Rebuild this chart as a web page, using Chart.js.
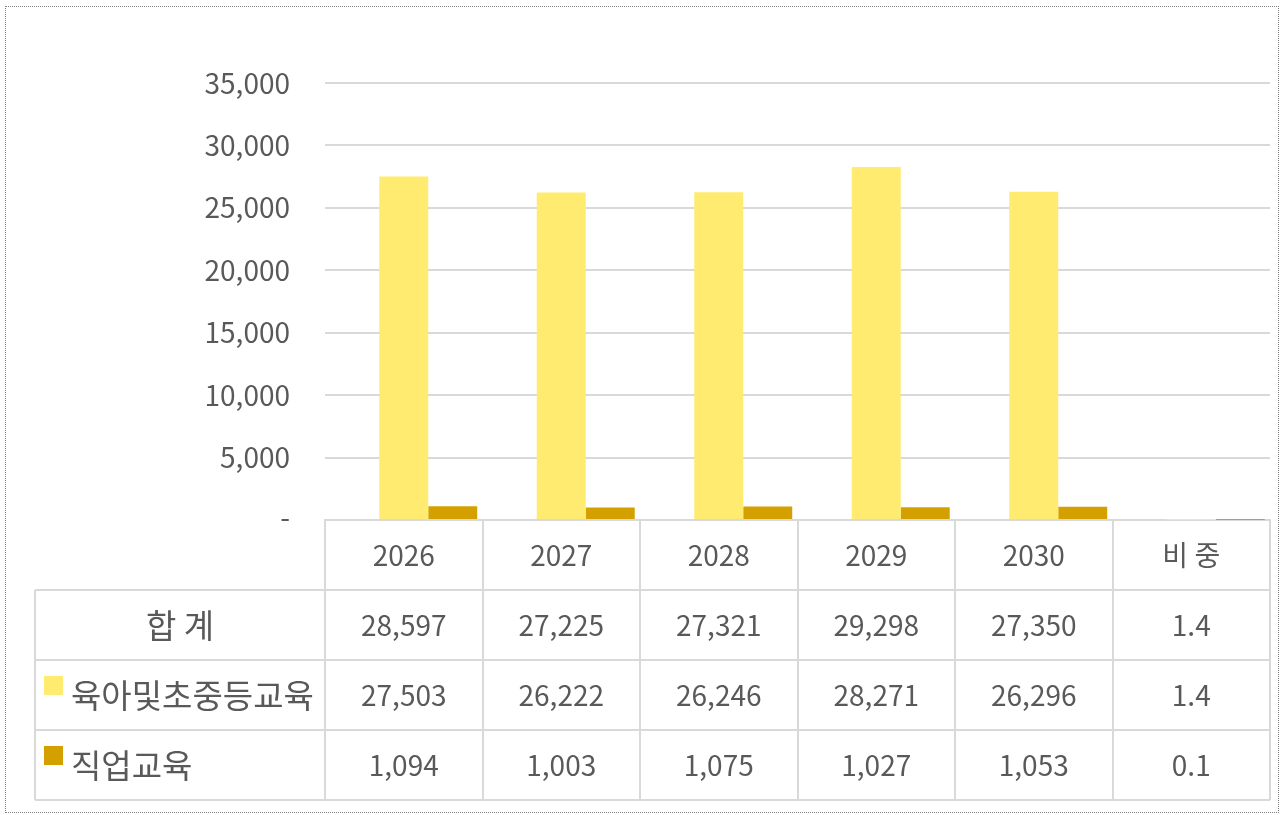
<!DOCTYPE html>
<html lang="ko">
<head>
<meta charset="utf-8">
<title>교육 예산 전망</title>
<script src="https://cdn.jsdelivr.net/npm/chart.js@4/dist/chart.umd.min.js"></script>
<style>
  body { margin: 0; background: #fff; }
  #wrap { position: relative; width: 1284px; height: 815px; }
  #wrap::after {
    content: ""; position: absolute; left: 5px; top: 6px; width: 1272px; height: 805px;
    border: 1px dotted #7f7f7f; pointer-events: none;
  }
</style>
</head>
<body>
<div id="wrap"><canvas id="myChart" width="1284" height="815"></canvas></div>
<script>
const categories = ['2026', '2027', '2028', '2029', '2030', '비 중'];
const totalValues = [28597, 27225, 27321, 29298, 27350, 1.4];
const earlyEduValues = [27503, 26222, 26246, 28271, 26296, 1.4];
const vocEduValues = [1094, 1003, 1075, 1027, 1053, 0.1];
const yTicks = [0, 5000, 10000, 15000, 20000, 25000, 30000, 35000];

const FONT = '"Noto Sans CJK KR", "Noto Sans", sans-serif';
const TEXT = '#595959';
const LINE = '#d9d9d9';

const fmt = v => Number.isInteger(v) ? v.toLocaleString('en-US') : v.toFixed(1);

// Table rows below the plot, same order as Excel's data table
const tableRows = [
  { label: '합 계', values: totalValues, color: null },
  { label: '육아및초중등교육', values: earlyEduValues, color: '#FFEB70' },
  { label: '직업교육', values: vocEduValues, color: '#D4A000' }
];

// Draws the data table under the x axis, using the x scale's columns
const dataTable = {
  id: 'dataTable',
  afterDraw(chart) {
    const { ctx, chartArea } = chart;
    const x = chart.scales.x;
    const colW = (chartArea.right - chartArea.left) / categories.length;
    const headTop = chartArea.bottom + 1;
    const headBottom = x.bottom;
    const rowH = 70;
    const tableLeft = 35;
    const tableBottom = headBottom + rowH * tableRows.length;

    ctx.save();
    ctx.strokeStyle = LINE;
    ctx.lineWidth = 2;

    // vertical lines for the value columns
    for (let i = 0; i <= categories.length; i++) {
      const px = Math.round(chartArea.left + colW * i);
      ctx.beginPath();
      ctx.moveTo(px, headTop);
      ctx.lineTo(px, tableBottom);
      ctx.stroke();
    }
    // left border of the row label column
    ctx.beginPath();
    ctx.moveTo(tableLeft, headBottom);
    ctx.lineTo(tableLeft, tableBottom);
    ctx.stroke();
    // horizontal lines
    for (let r = 0; r <= tableRows.length; r++) {
      const py = Math.round(headBottom + rowH * r);
      ctx.beginPath();
      ctx.moveTo(tableLeft, py);
      ctx.lineTo(chartArea.right, py);
      ctx.stroke();
    }

    ctx.textBaseline = 'middle';
    ctx.fillStyle = TEXT;
    tableRows.forEach((row, r) => {
      const cy = headBottom + rowH * r + rowH / 2;
      // row label
      ctx.font = '33px ' + FONT;
      if (row.color) {
        ctx.fillStyle = row.color;
        ctx.fillRect(44, cy - 19, 19, 19);
        ctx.fillStyle = TEXT;
        ctx.textAlign = 'left';
        ctx.fillText(row.label, 71, cy);
      } else {
        ctx.textAlign = 'center';
        ctx.fillText(row.label, (tableLeft + chartArea.left) / 2, cy);
      }
      // values
      ctx.font = '28px ' + FONT;
      ctx.textAlign = 'center';
      row.values.forEach((v, i) => {
        ctx.fillText(fmt(v), x.getPixelForValue(i), cy);
      });
    });
    ctx.restore();
  }
};

const ctx = document.getElementById('myChart').getContext('2d');
const myChart = new Chart(ctx, {
  type: 'bar',
  data: {
    labels: categories,
    datasets: [
      { label: '합 계', data: totalValues, backgroundColor: 'rgba(0,0,0,0)' },
      { label: '육아및초중등교육', data: earlyEduValues, backgroundColor: '#FFEB70' },
      { label: '직업교육', data: vocEduValues, backgroundColor: '#D4A000' }
    ]
  },
  options: {
    responsive: false,
    animation: false,
    layout: { padding: { left: 0, top: 83, right: 14, bottom: 225 } },
    datasets: { bar: { categoryPercentage: 0.933, barPercentage: 1 } },
    plugins: { legend: { display: false }, tooltip: { enabled: false } },
    scales: {
      x: {
        grid: { display: false },
        border: { display: true, color: LINE, width: 2 },
        ticks: { color: TEXT, font: { family: FONT, size: 28 }, padding: 11, maxRotation: 0 },
        afterFit: s => { s.height = 70; }
      },
      y: {
        min: 0,
        max: 35000,
        afterBuildTicks: s => { s.ticks = yTicks.map(v => ({ value: v })); },
        grid: { color: LINE, lineWidth: 2, drawTicks: false },
        border: { display: false },
        ticks: {
          color: TEXT,
          font: { family: FONT, size: 28 },
          padding: 35,
          callback: v => v === 0 ? '-' : v.toLocaleString('en-US')
        },
        afterFit: s => { s.width = 325; }
      }
    }
  },
  plugins: [dataTable]
});
</script>
</body>
</html>
